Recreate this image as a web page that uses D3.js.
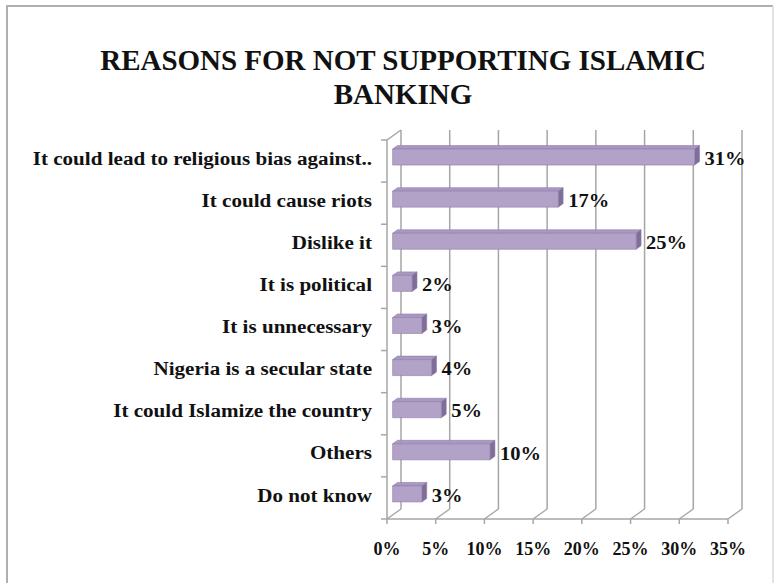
<!DOCTYPE html>
<html>
<head>
<meta charset="utf-8">
<script src="https://cdn.jsdelivr.net/npm/d3@7"></script>
<style>
  html, body { margin: 0; padding: 0; background: #fff; }
  svg { display: block; }
</style>
</head>
<body>
<svg id="chart" width="779" height="583"></svg>
<script>
// ---- data ----
const categories = [
  "It could lead to religious bias against..",
  "It could cause riots",
  "Dislike it",
  "It is political",
  "It is unnecessary",
  "Nigeria is a secular state",
  "It could Islamize the country",
  "Others",
  "Do not know"
];
const values = [31, 17, 25, 2, 3, 4, 5, 10, 3];
const tickValues = [0, 5, 10, 15, 20, 25, 30, 35];
const tickLabels = ["0%", "5%", "10%", "15%", "20%", "25%", "30%", "35%"];
const titleLines = ["REASONS FOR NOT SUPPORTING ISLAMIC", "BANKING"];

// ---- layout ----
const svg = d3.select("#chart");
const FONT = "'Liberation Serif', 'DejaVu Serif', serif";
const DX = 14, DY = -10;           // 3D depth offset
const frontTop = 140, frontBottom = 519;
const x = d3.scaleLinear().domain([0, 35]).range([387, 728]);
const y = d3.scaleBand().domain(categories).range([frontTop, frontBottom]);
const barH = 16;
const dFront = 0.4, dBack = 0.75;
const gridColor = "#a6a6a6";

// frame
svg.append("path")
  .attr("d", "M7,583 L7,6 L773,6")
  .attr("fill", "none").attr("stroke", "#b0b0b0").attr("stroke-width", 2);
svg.append("line").attr("x1", 773).attr("x2", 773).attr("y1", 6).attr("y2", 583)
  .attr("stroke", "#d8d8d8").attr("stroke-width", 1.5);

// title
svg.append("g").selectAll("text").data(titleLines).join("text")
  .attr("transform", (d, i) => `translate(403,${70 + i * 34}) scale(1,1.05)`)
  .attr("text-anchor", "middle")
  .attr("font-family", FONT).attr("font-weight", "bold")
  .attr("font-size", 29).attr("fill", "#111")
  .text(d => d);

const grid = svg.append("g").attr("stroke", gridColor).attr("stroke-width", 1.5).attr("fill", "none");
// back wall gridlines
grid.selectAll(".back").data(tickValues).join("line")
  .attr("x1", d => x(d) + DX).attr("x2", d => x(d) + DX)
  .attr("y1", frontTop + DY).attr("y2", frontBottom + DY);
// floor diagonals
grid.selectAll(".diag").data(tickValues).join("line")
  .attr("x1", d => x(d) + DX).attr("y1", frontBottom + DY)
  .attr("x2", d => x(d)).attr("y2", frontBottom);
// front floor line
grid.append("line").attr("x1", x(0)).attr("x2", x(35)).attr("y1", frontBottom).attr("y2", frontBottom);
// floor ticks
grid.selectAll(".ft").data(tickValues).join("line")
  .attr("x1", d => x(d)).attr("x2", d => x(d))
  .attr("y1", frontBottom).attr("y2", frontBottom + 5);
// left wall
grid.append("line").attr("x1", x(0)).attr("x2", x(0)).attr("y1", frontTop).attr("y2", frontBottom);
grid.append("line").attr("x1", x(0)).attr("y1", frontTop).attr("x2", x(0) + DX).attr("y2", frontTop + DY);
// left ticks at band boundaries
const bounds = categories.map(c => y(c)).concat([frontBottom]);
grid.selectAll(".lt").data(bounds).join("line")
  .attr("x1", x(0) - 6).attr("x2", x(0))
  .attr("y1", d => d).attr("y2", d => d);

// bars
const bars = svg.append("g");
categories.forEach((c, i) => {
  const v = values[i];
  const yc = y(c) + y.bandwidth() / 2 + dFront * DY;
  const xl = x(0) + dFront * DX, xr = x(v) + dFront * DX;
  const yt = yc - barH / 2, yb = yc + barH / 2;
  const ddx = (dBack - dFront) * DX, ddy = (dBack - dFront) * DY;
  const g = bars.append("g").attr("stroke", "#8f7eab").attr("stroke-width", 0.6).attr("stroke-linejoin", "round");
  g.append("path").attr("fill", "#a898c2")
    .attr("d", `M${xl},${yt} L${xl + ddx},${yt + ddy} L${xr + ddx},${yt + ddy} L${xr},${yt} Z`);
  g.append("path").attr("fill", "#7f6e98")
    .attr("d", `M${xr},${yt} L${xr + ddx},${yt + ddy} L${xr + ddx},${yb + ddy} L${xr},${yb} Z`);
  g.append("rect").attr("fill", "#b3a2c7")
    .attr("x", xl).attr("y", yt).attr("width", xr - xl).attr("height", barH);
  // value label
  svg.append("text")
    .attr("transform", `translate(${x(v) + dBack * DX + 5},${yc + 1}) scale(1.08,1)`)
    .attr("dominant-baseline", "central")
    .attr("font-family", FONT).attr("font-weight", "bold")
    .attr("font-size", 19).attr("fill", "#111")
    .text(v + "%");
});

// category labels
svg.append("g").selectAll("text").data(categories).join("text")
  .attr("transform", d => `translate(372,${y(d) + y.bandwidth() / 2 + dFront * DY + 1}) scale(1.11,1)`)
  .attr("text-anchor", "end").attr("dominant-baseline", "central")
  .attr("font-family", FONT).attr("font-weight", "bold")
  .attr("font-size", 19).attr("fill", "#111")
  .text(d => d);

// x tick labels
svg.append("g").selectAll("text").data(tickValues).join("text")
  .attr("x", d => x(d)).attr("y", 549)
  .attr("text-anchor", "middle").attr("dominant-baseline", "central")
  .attr("font-family", FONT).attr("font-weight", "bold")
  .attr("font-size", 18).attr("fill", "#111")
  .text((d, i) => tickLabels[i]);
</script>
</body>
</html>
